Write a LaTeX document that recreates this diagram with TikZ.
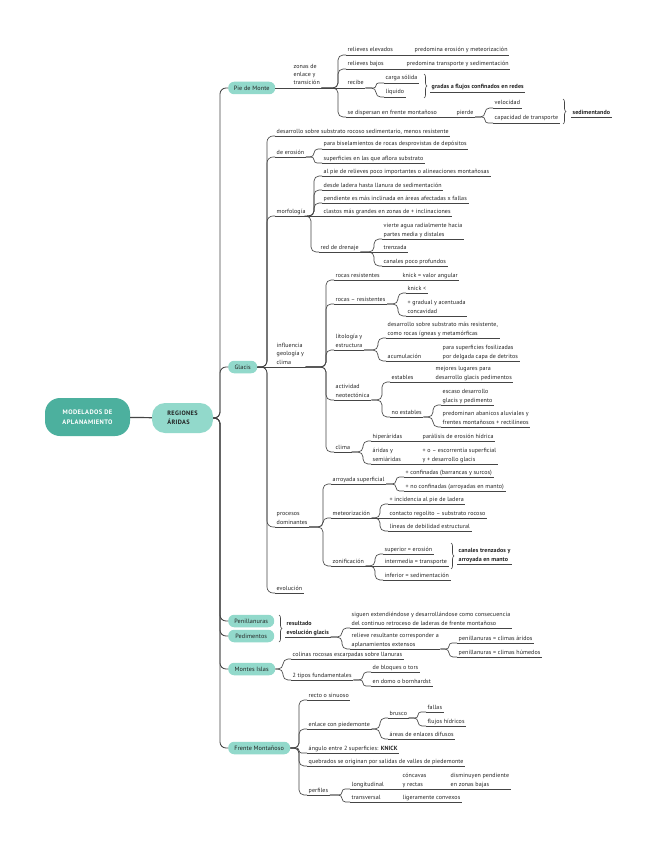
\documentclass[tikz,border=0pt]{standalone}
\usepackage{fontspec}
\setmainfont{PT Sans}[LetterSpace=1.5]
\newfontfamily\capsfont[LetterSpace=6]{PT Sans}
\usetikzlibrary{decorations.pathreplacing}
\definecolor{txt}{HTML}{222222}
\definecolor{ln}{HTML}{454545}
\definecolor{rootc}{RGB}{76,176,158}
\definecolor{pillc}{RGB}{146,217,203}
\newcommand\fsn{\fontsize{6}{8.4}\selectfont}
\tikzset{
  cn/.style={draw=ln, line width=0.65pt},
  ul/.style={draw=ln, line width=0.65pt},
  t/.style={anchor=south west, inner xsep=1.5pt, inner ysep=1.3pt, align=left,
    font=\fsn, text=txt,
    execute at end node={\vrule width 0pt height 0pt depth 1.5pt},
    append after command={(\tikzlastnode.south west) edge[ul] (\tikzlastnode.south east)}},
  sm/.style={t, font=\fsn\bfseries},
  pill/.style={fill=pillc, rounded corners=6pt, minimum height=12.5pt, inner xsep=2pt,
    inner ysep=0pt, font=\fontsize{6.2}{7}\selectfont, text=txt, anchor=west},
  rootbox/.style={fill=rootc, text=white, rounded corners=15pt, minimum width=85pt,
    minimum height=38pt, align=center, font=\capsfont\fontsize{6.5}{9.5}\selectfont\bfseries},
  regbox/.style={fill=pillc, text=txt, rounded corners=13pt, minimum width=61pt,
    minimum height=30pt, align=left, font=\capsfont\fontsize{6.3}{9}\selectfont\bfseries},
  fan/.style={to path={[rounded corners=#1] (\tikztostart) -- ([xshift=-8pt]\tikztotarget |- \tikztostart) |- (\tikztotarget)}},
  fan/.default=5pt,
  br/.style={draw=ln, line width=0.65pt, decorate, decoration={brace, amplitude=3pt}},
}
\begin{document}
\begin{tikzpicture}[x=1pt,y=-1pt]
\fill[white] (0,0) rectangle (655,848);
\path[use as bounding box] (0,0) rectangle (655,848);

% root and level 1
\node[rootbox] (root) at (87.5,417) {MODELADOS DE\\APLANAMIENTO};
\node[regbox] (reg) at (182.5,418) {REGIONES\\ÁRIDAS};
\draw[draw=ln, line width=1.2pt] (root) -- (reg);

\node[pill, minimum width=47pt] (pdm) at (228,88) {Pie de Monte};
\node[pill, minimum width=29pt] (glacis) at (228,367) {Glacis};
\node[pill, minimum width=46pt] (penill) at (228,621) {Penillanuras};
\node[pill, minimum width=46pt] (pedim) at (228,636) {Pedimentos};
\node[pill, minimum width=47pt] (montes) at (228,669) {Montes Islas};
\node[pill, minimum width=62pt] (frente) at (228,748) {Frente Montañoso};

\foreach \p in {pdm,glacis,penill,pedim,montes,frente}
  \draw[cn, line width=0.85pt] (reg.east) to[fan=6pt] (\p.west);

% ---------- Pie de Monte ----------
\node[t] (zonas) at (292,88) {zonas de\\enlace y\\transición};
\node[t] (relel) at (346,55) {relieves elevados};
\node[t] (pred1) at (413,55) {predomina erosión y meteorización};
\node[t] (relba) at (346,69) {relieves bajos};
\node[t] (pred2) at (405,69) {predomina transporte y sedimentación};
\node[t] (recibe) at (346,88) {recibe};
\node[t] (carga) at (384,83) {carga sólida};
\node[t] (liq) at (384,97) {líquido};
\node[sm] (gradas) at (430,92) {gradas a flujos confinados en redes};
\node[t] (disp) at (346,117) {se dispersan en frente montañoso};
\node[t] (pierde) at (455,117) {pierde};
\node[t] (vel) at (493,108) {velocidad};
\node[t] (cap) at (493,123) {capacidad de transporte};
\node[sm] (sedim) at (571,117) {sedimentando};
\coordinate (b1t) at (424,74); \coordinate (b1b) at (424,98);
\coordinate (b2t) at (563,99); \coordinate (b2b) at (563,124);

\draw[cn] (pdm.east) -- (zonas.south west);
\draw[cn] (zonas.south east) to[fan] (relel.south west);
\draw[cn] (relel.south east) -- (pred1.south west);
\draw[cn] (zonas.south east) to[fan] (relba.south west);
\draw[cn] (relba.south east) -- (pred2.south west);
\draw[cn] (zonas.south east) -- (recibe.south west);
\draw[cn] (recibe.south east) to[fan=2.5pt] (carga.south west);
\draw[cn] (recibe.south east) to[fan=4.5pt] (liq.south west);
\draw[cn] (zonas.south east) to[fan] (disp.south west);
\draw[cn] (disp.south east) -- (pierde.south west);
\draw[cn] (pierde.south east) to[fan=4.5pt] (vel.south west);
\draw[cn] (pierde.south east) to[fan=3pt] (cap.south west);
\draw[br] (b1t) -- (b1b);
\draw[br] (b2t) -- (b2b);

% ---------- Glacis ----------
\node[t] (g1) at (275,136) {desarrollo sobre substrato rocoso sedimentario, menos resistente};
\node[t] (eros) at (275,157) {de erosión};
\node[t] (bisel) at (322,149) {para biselamientos de rocas desprovistas de depósitos};
\node[t] (supf) at (322,163) {superficies en las que aflora substrato};
\node[t] (morf) at (275,216) {morfología};
\node[t] (m1) at (322,176) {al pie de relieves poco importantes o alineaciones montañosas};
\node[t] (m2) at (322,190) {desde ladera hasta llanura de sedimentación};
\node[t] (m3) at (322,203) {pendiente es más inclinada en áreas afectadas x fallas};
\node[t] (m4) at (322,216) {clastos más grandes en zonas de + inclinaciones};
\node[t] (red) at (319,252) {red de drenaje};
\node[t] (v1) at (382,239) {vierte agua radialmente hacia\\partes media y distales};
\node[t] (v2) at (382,252) {trenzada};
\node[t] (v3) at (382,266) {canales poco profundos};
\node[t] (infl) at (275,367) {influencia\\geología y\\clima};
\node[t] (rr) at (334,280) {rocas resistentes};
\node[t] (k1) at (401,280) {knick = valor angular};
\node[t] (rmr) at (334,304) {rocas – resistentes};
\node[t] (k2) at (406,293) {knick <};
\node[t] (grad) at (406,316) {+ gradual y acentuada\\concavidad};
\node[t] (lito) at (334,350) {litología y\\estructura};
\node[t] (l1) at (386,338) {desarrollo sobre substrato más resistente,\\como rocas ígneas y metamórficas};
\node[t] (acum) at (386,361) {acumulación};
\node[t] (a1) at (441,361) {para superficies fosilizadas\\por delgada capa de detritos};
\node[t] (neo) at (334,400) {actividad\\neotectónica};
\node[t] (est) at (390,382) {estables};
\node[t] (e1) at (434,382) {mejores lugares para\\desarrollo glacis pedimentos};
\node[t] (nest) at (390,417) {no estables};
\node[t] (ne1) at (441,405) {escaso desarrollo\\glacis y pedimento};
\node[t] (ne2) at (441,427) {predominan abanicos aluviales y\\frentes montañosos + rectilíneos};
\node[t] (clima) at (334,452) {clima};
\node[t] (hip) at (371,441) {hiperáridas};
\node[t] (h1) at (421,441) {parálisis de erosión hídrica};
\node[t] (ari) at (371,464) {áridas y\\semiáridas};
\node[t] (a2) at (421,464) {+ o – escorrentía superficial\\y + desarrollo glacis};
\node[t] (proc) at (275,527) {procesos\\dominantes};
\node[t] (arr) at (331,484) {arroyada superficial};
\node[t] (c1) at (404,477) {+ confinadas (barrancas y surcos)};
\node[t] (c2) at (404,491) {+ no confinadas (arroyadas en manto)};
\node[t] (met) at (331,518) {meteorización};
\node[t] (mt1) at (388,504) {+ incidencia al pie de ladera};
\node[t] (mt2) at (388,518) {contacto regolito – substrato rocoso};
\node[t] (mt3) at (388,531) {líneas de debilidad estructural};
\node[t] (zon) at (331,566) {zonificación};
\node[t] (z1) at (383,554) {superior = erosión};
\node[t] (z2) at (383,566) {intermedia = transporte};
\node[t] (z3) at (383,580) {inferior = sedimentación};
\node[sm] (zs) at (457,564) {canales trenzados y\\arroyada en manto};
\coordinate (b3t) at (451,543); \coordinate (b3b) at (451,569);
\node[t] (evol) at (275,593) {evolución};

\foreach \c in {g1,eros,morf,proc,evol}
  \draw[cn] (glacis.east) to[fan=6pt] (\c.south west);
\draw[cn] (glacis.east) -- (infl.south west);
\draw[cn] (eros.south east) to[fan=4pt] (bisel.south west);
\draw[cn] (eros.south east) to[fan=3pt] (supf.south west);
\foreach \c in {m1,m2,m3,red}
  \draw[cn] (morf.south east) to[fan] (\c.south west);
\draw[cn] (morf.south east) -- (m4.south west);
\draw[cn] (red.south east) to[fan] (v1.south west);
\draw[cn] (red.south east) -- (v2.south west);
\draw[cn] (red.south east) to[fan] (v3.south west);
\foreach \c in {rr,rmr,lito,neo,clima}
  \draw[cn] (infl.south east) to[fan] (\c.south west);
\draw[cn] (rr.south east) -- (k1.south west);
\draw[cn] (rmr.south east) to[fan] (k2.south west);
\draw[cn] (rmr.south east) to[fan] (grad.south west);
\draw[cn] (lito.south east) to[fan] (l1.south west);
\draw[cn] (lito.south east) to[fan] (acum.south west);
\draw[cn] (acum.south east) -- (a1.south west);
\draw[cn] (neo.south east) to[fan] (est.south west);
\draw[cn] (neo.south east) to[fan] (nest.south west);
\draw[cn] (est.south east) -- (e1.south west);
\draw[cn] (nest.south east) to[fan] (ne1.south west);
\draw[cn] (nest.south east) to[fan] (ne2.south west);
\draw[cn] (clima.south east) to[fan] (hip.south west);
\draw[cn] (clima.south east) to[fan] (ari.south west);
\draw[cn] (hip.south east) -- (h1.south west);
\draw[cn] (ari.south east) -- (a2.south west);
\draw[cn] (proc.south east) to[fan] (arr.south west);
\draw[cn] (proc.south east) to[fan=4.5pt] (met.south west);
\draw[cn] (proc.south east) to[fan] (zon.south west);
\draw[cn] (arr.south east) to[fan=3.5pt] (c1.south west);
\draw[cn] (arr.south east) to[fan=3.5pt] (c2.south west);
\draw[cn] (met.south east) to[fan] (mt1.south west);
\draw[cn] (met.south east) -- (mt2.south west);
\draw[cn] (met.south east) to[fan] (mt3.south west);
\draw[cn] (zon.south east) to[fan] (z1.south west);
\draw[cn] (zon.south east) -- (z2.south west);
\draw[cn] (zon.south east) to[fan] (z3.south west);
\draw[br] (b3t) -- (b3b);

% ---------- Penillanuras / Pedimentos ----------
\coordinate (b4t) at (279,615); \coordinate (b4b) at (279,642);
\node[sm] (res) at (285,637) {resultado\\evolución glacis};
\node[t] (s1) at (350,628) {siguen extendiéndose y desarrollándose como consecuencia\\del continuo retroceso de laderas de frente montañoso};
\node[t] (s2) at (350,649) {relieve resultante corresponder a\\aplanamientos extensos};
\node[t] (p1) at (457,643) {penillanuras = climas áridos};
\node[t] (p2) at (457,657) {penillanuras = climas húmedos};
\draw[br] (b4t) -- (b4b);
\draw[cn] (res.south east) to[fan=4.5pt] (s1.south west);
\draw[cn] (res.south east) to[fan] (s2.south west);
\draw[cn] (s2.south east) to[fan=3pt] (p1.south west);
\draw[cn] (s2.south east) to[fan=4pt] (p2.south west);

% ---------- Montes Islas ----------
\node[t] (mi1) at (291,659) {colinas rocosas escarpadas sobre llanuras};
\node[t] (mi2) at (291,680) {2 tipos fundamentales};
\node[t] (t1) at (371,672) {de bloques o tors};
\node[t] (t2) at (371,686) {en domo o bornhardst};
\draw[cn] (montes.east) to[fan] (mi1.south west);
\draw[cn] (montes.east) to[fan] (mi2.south west);
\draw[cn] (mi2.south east) to[fan=4pt] (t1.south west);
\draw[cn] (mi2.south east) to[fan=3pt] (t2.south west);

% ---------- Frente Montañoso ----------
\node[t] (f1) at (307,700) {recto o sinuoso};
\node[t] (f2) at (307,729) {enlace con piedemonte};
\node[t] (bru) at (388,718) {brusco};
\node[t] (fa) at (426,712) {fallas};
\node[t] (fh) at (426,726) {flujos hídricos};
\node[t] (dif) at (388,739) {áreas de enlaces difusos};
\node[t] (f3) at (307,753) {ángulo entre 2 superficies: \textbf{KNICK}};
\node[t] (f4) at (307,766) {quebrados se originan por salidas de valles de piedemonte};
\node[t] (perf) at (307,795) {perfiles};
\node[t] (lon) at (350,789) {longitudinal};
\node[t] (conc) at (401,789) {cóncavas\\y rectas};
\node[t] (dism) at (449,789) {disminuyen pendiente\\en zonas bajas};
\node[t] (tra) at (350,802) {transversal};
\node[t] (lig) at (401,802) {ligeramente convexos};
\draw[cn] (frente.east) to[fan] (f1.south west);
\draw[cn] (frente.east) to[fan] (f2.south west);
\draw[cn] (frente.east) to[fan=2.5pt] (f3.south west);
\draw[cn] (frente.east) to[fan] (f4.south west);
\draw[cn] (frente.east) to[fan] (perf.south west);
\draw[cn] (f2.south east) to[fan] (bru.south west);
\draw[cn] (f2.south east) to[fan] (dif.south west);
\draw[cn] (bru.south east) to[fan=3pt] (fa.south west);
\draw[cn] (bru.south east) to[fan=4pt] (fh.south west);
\draw[cn] (perf.south east) to[fan=3pt] (lon.south west);
\draw[cn] (perf.south east) to[fan=3.5pt] (tra.south west);
\draw[cn] (lon.south east) -- (conc.south west);
\draw[cn] (conc.south east) -- (dism.south west);
\draw[cn] (tra.south east) -- (lig.south west);
\end{tikzpicture}
\end{document}
